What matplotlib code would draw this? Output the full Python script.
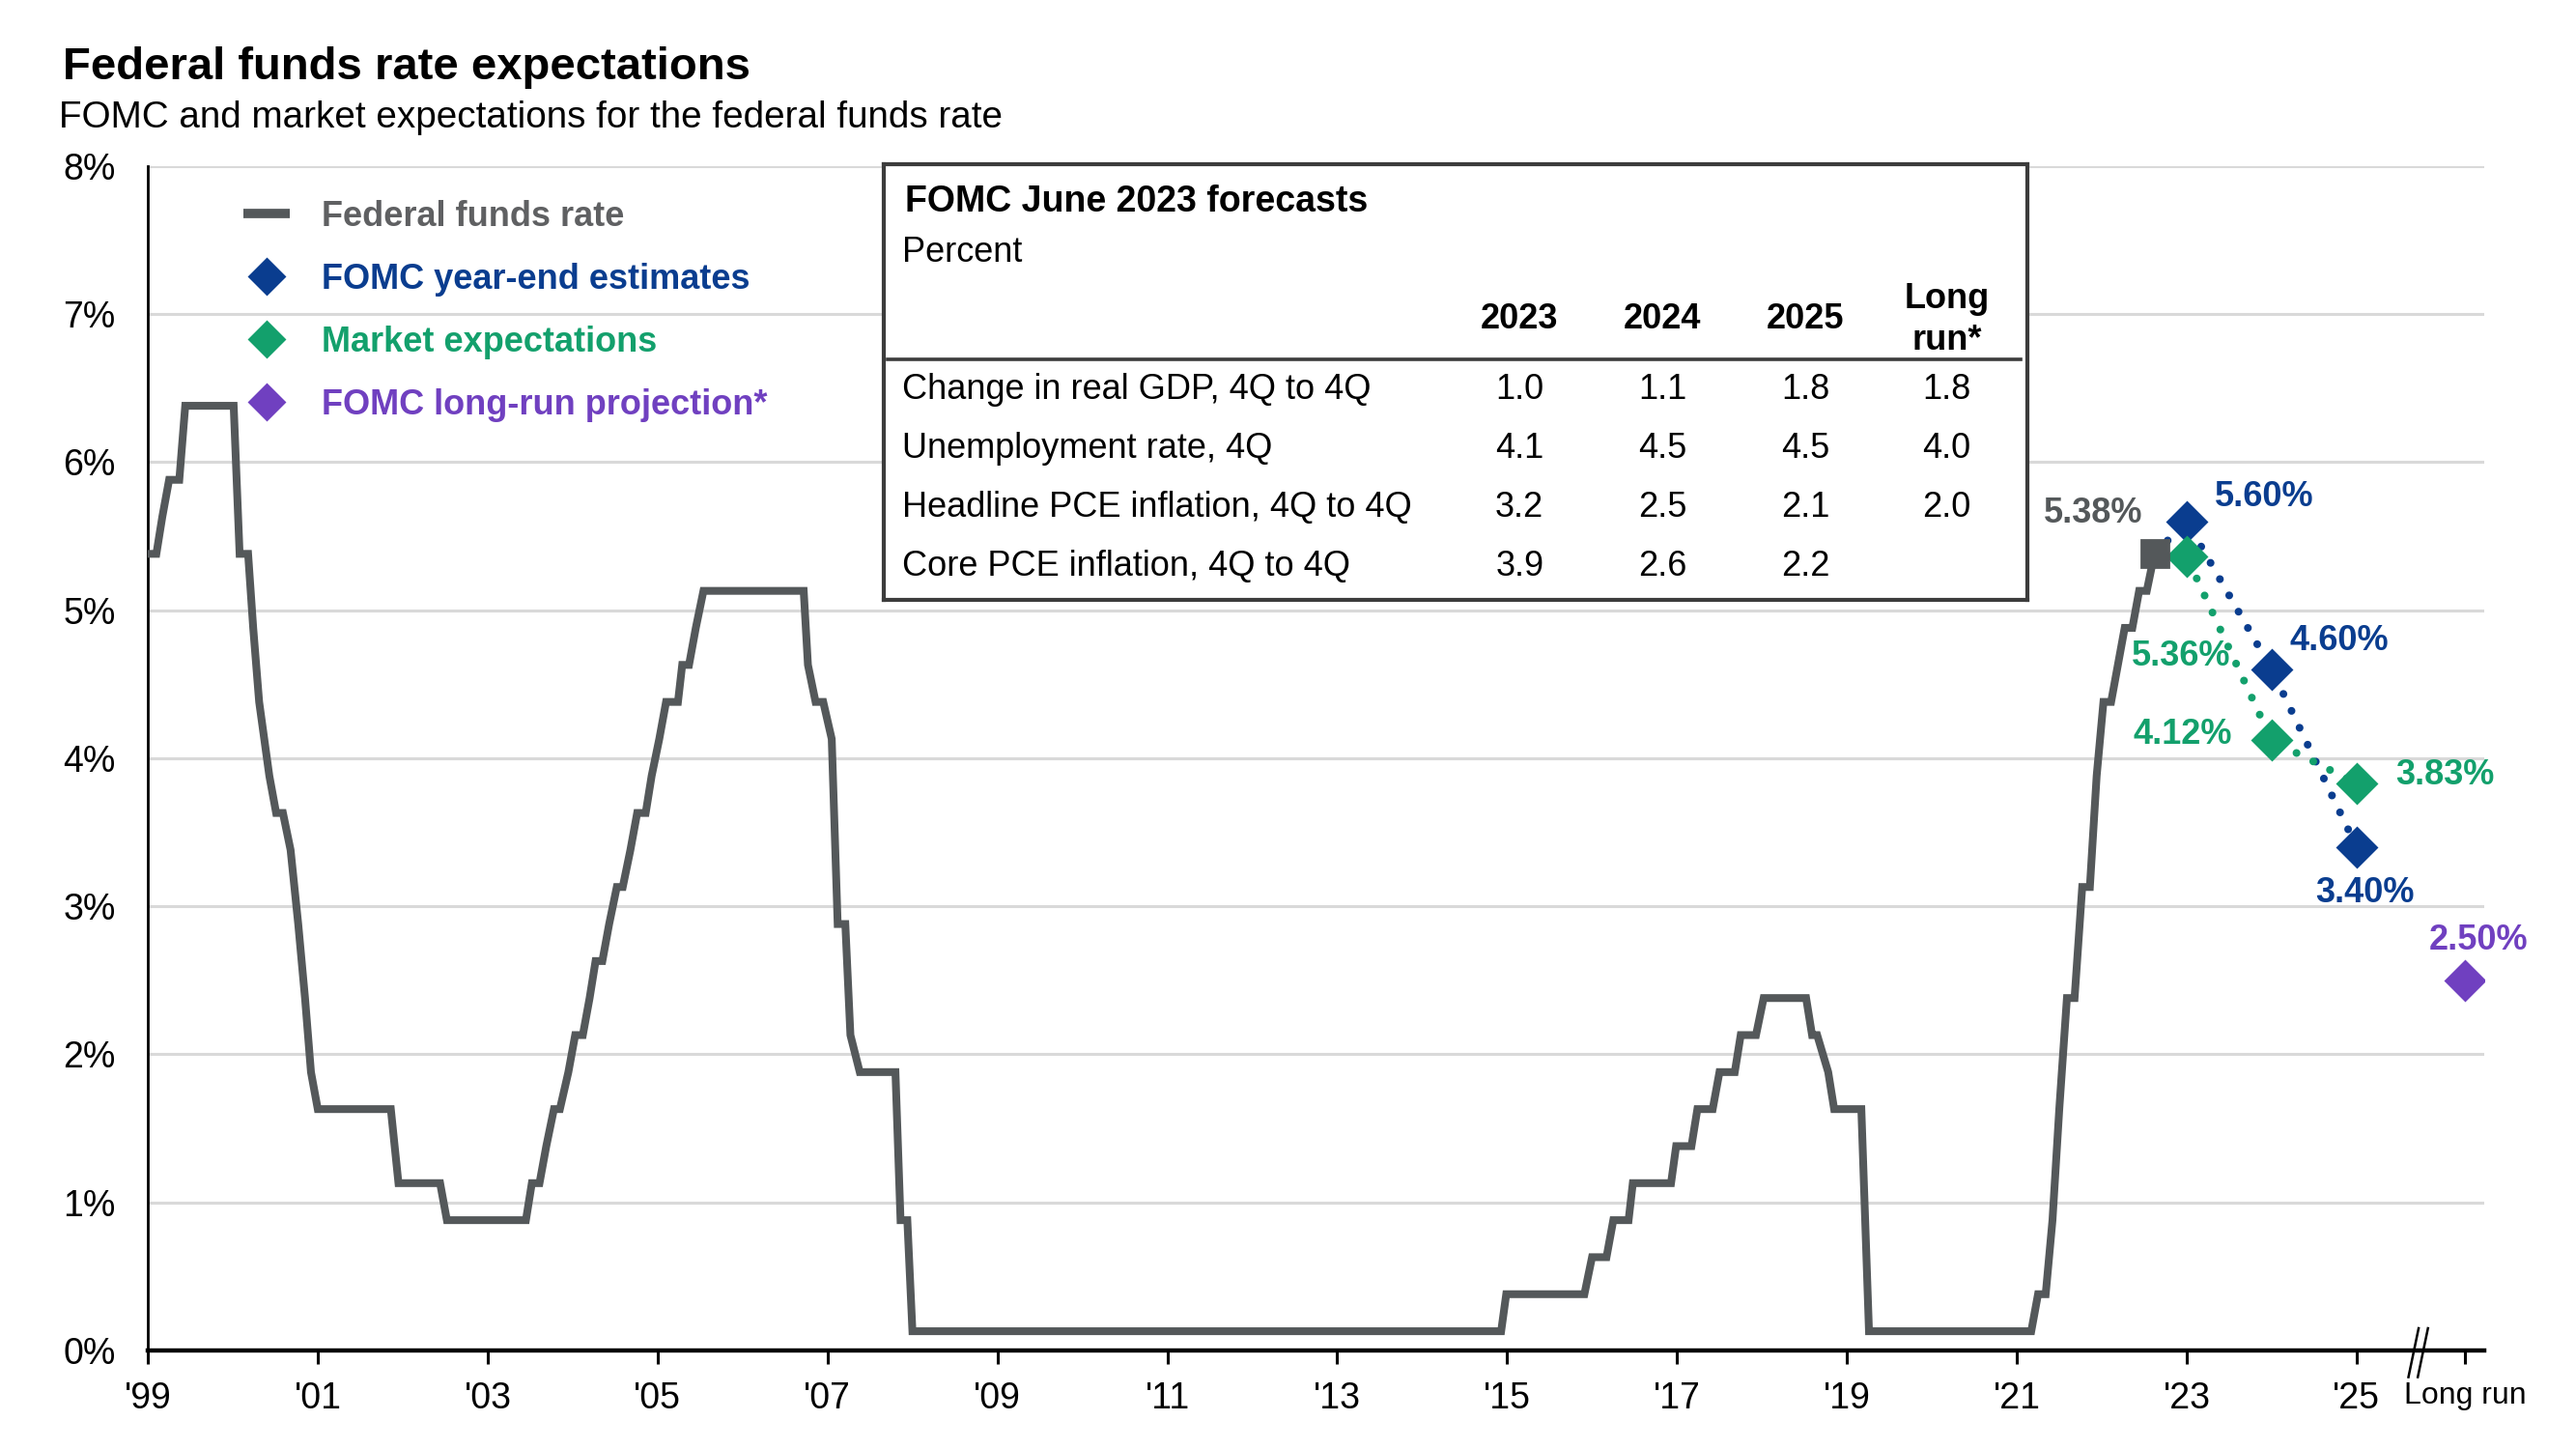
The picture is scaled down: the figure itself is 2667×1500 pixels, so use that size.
import matplotlib
matplotlib.use("Agg")
import matplotlib.pyplot as plt
from matplotlib.lines import Line2D

plt.rcParams['font.family'] = ['Liberation Sans', 'DejaVu Sans']

# ---------------- data ----------------
# Federal funds rate (x in chart-year positions, y in %)
ffr_x = [1999.00, 1999.10, 1999.17, 1999.25, 1999.37, 1999.44, 2000.01, 2000.08, 2000.18,
         2000.24, 2000.31, 2000.43, 2000.51, 2000.59, 2000.68, 2000.77, 2000.85, 2000.92,
         2001.00, 2001.86, 2001.95, 2002.44, 2002.52, 2003.45, 2003.52, 2003.61, 2003.69,
         2003.78, 2003.85, 2003.95, 2004.03, 2004.12, 2004.20, 2004.27, 2004.35, 2004.43,
         2004.52, 2004.59, 2004.68, 2004.76, 2004.86, 2004.93, 2005.02, 2005.10, 2005.24,
         2005.29, 2005.37, 2005.45, 2005.54, 2006.72, 2006.77, 2006.86, 2006.95, 2007.05,
         2007.12, 2007.21, 2007.27, 2007.38, 2007.80, 2007.86, 2007.94, 2008.00, 2014.93,
         2014.99, 2015.91, 2016.00, 2016.17, 2016.25, 2016.43, 2016.48, 2016.93, 2016.99,
         2017.17, 2017.24, 2017.42, 2017.50, 2017.68, 2017.75, 2017.93, 2018.02, 2018.52,
         2018.59, 2018.65, 2018.78, 2018.85, 2019.17, 2019.26, 2021.17, 2021.25, 2021.34,
         2021.42, 2021.50, 2021.59, 2021.68, 2021.77, 2021.86, 2021.94, 2022.02, 2022.11,
         2022.19, 2022.27, 2022.36, 2022.44, 2022.53, 2022.62]
ffr_y = [5.38, 5.38, 5.63, 5.88, 5.88, 6.38, 6.38, 5.38, 5.38,
         4.88, 4.38, 3.88, 3.63, 3.63, 3.38, 2.88, 2.38, 1.88,
         1.63, 1.63, 1.13, 1.13, 0.88, 0.88, 1.13, 1.13, 1.38,
         1.63, 1.63, 1.88, 2.13, 2.13, 2.38, 2.63, 2.63, 2.88,
         3.13, 3.13, 3.38, 3.63, 3.63, 3.88, 4.13, 4.38, 4.38,
         4.63, 4.63, 4.88, 5.13, 5.13, 4.63, 4.38, 4.38, 4.13,
         2.88, 2.88, 2.13, 1.88, 1.88, 0.88, 0.88, 0.13, 0.13,
         0.38, 0.38, 0.63, 0.63, 0.88, 0.88, 1.13, 1.13, 1.38,
         1.38, 1.63, 1.63, 1.88, 1.88, 2.13, 2.13, 2.38, 2.38,
         2.13, 2.13, 1.88, 1.63, 1.63, 0.13, 0.13, 0.38, 0.38,
         0.88, 1.63, 2.38, 2.38, 3.13, 3.13, 3.88, 4.38, 4.38,
         4.63, 4.88, 4.88, 5.13, 5.13, 5.38]

latest_x = 2022.62
latest_val = 5.38

fomc_years = [2023, 2024, 2025]
fomc_vals = [5.60, 4.60, 3.40]

market_years = [2023, 2024, 2025]
market_vals = [5.36, 4.12, 3.83]

longrun_x = 2026.28
longrun_val = 2.50

xtick_pos = [1999, 2001, 2003, 2005, 2007, 2009, 2011, 2013, 2015, 2017, 2019, 2021,
             2023, 2025, 2026.28]
xtick_labels = ["'99", "'01", "'03", "'05", "'07", "'09", "'11", "'13", "'15", "'17",
                "'19", "'21", "'23", "'25", "Long run"]
ytick_vals = [0, 1, 2, 3, 4, 5, 6, 7, 8]

legend_labels = ['Federal funds rate', 'FOMC year-end estimates',
                 'Market expectations', 'FOMC long-run projection*']

table_title = 'FOMC June 2023 forecasts'
table_cols = ['2023', '2024', '2025', 'Long\nrun*']
table_rows = ['Change in real GDP, 4Q to 4Q', 'Unemployment rate, 4Q',
              'Headline PCE inflation, 4Q to 4Q', 'Core PCE inflation, 4Q to 4Q']
gdp_vals = ['1.0', '1.1', '1.8', '1.8']
unemp_vals = ['4.1', '4.5', '4.5', '4.0']
headline_vals = ['3.2', '2.5', '2.1', '2.0']
core_vals = ['3.9', '2.6', '2.2', '']

# ---------------- style ----------------
GRAY = '#54585a'
BLUE = '#0a3d8f'
GREEN = '#13a06c'
PURPLE = '#7040c0'
GRID = '#d9d9d9'

fig = plt.figure(figsize=(13.335, 7.5), dpi=200)
ax = fig.add_axes([0.0574, 0.068, 0.9069, 0.8175])

# grid / axes
ax.set_ylim(0, 8)
ax.set_xlim(1999, 2026.5)
ax.set_yticks(ytick_vals)
ax.set_yticklabels([f'{v}%' for v in ytick_vals])
ax.yaxis.grid(True, color=GRID, lw=1.1, zorder=0)
ax.set_axisbelow(True)
for s in ['top', 'right']:
    ax.spines[s].set_visible(False)
ax.spines['left'].set_linewidth(1.0)
ax.spines['left'].set_color('black')
ax.spines['bottom'].set_linewidth(1.6)
ax.spines['bottom'].set_color('black')
ax.tick_params(axis='y', length=0, pad=12, labelsize=13.5)
ax.set_xticks(xtick_pos)
ax.set_xticklabels(xtick_labels)
ax.tick_params(axis='x', direction='out', length=5, width=1.1, pad=6.5, labelsize=13.5)
ax.get_xticklabels()[-1].set_fontsize(11.5)

# axis break marks
for bx in [2025.67, 2025.78]:
    ax.plot([bx - 0.06, bx + 0.06], [-0.18, 0.15], color='black', lw=0.9,
            clip_on=False, zorder=6)

# fed funds line
ax.plot(ffr_x, ffr_y, color=GRAY, lw=2.9, zorder=3, solid_joinstyle='miter')

# dotted projection paths
dot_style = dict(lw=2.9, linestyle=(0, (0.01, 2.4)), dash_capstyle='round', zorder=3)
ax.plot([latest_x] + fomc_years, [latest_val] + fomc_vals, color=BLUE, **dot_style)
ax.plot([latest_x] + market_years, [latest_val] + market_vals, color=GREEN, **dot_style)

# markers
ax.plot(fomc_years, fomc_vals, 'D', color=BLUE, ms=10, zorder=5, ls='none')
ax.plot(market_years, market_vals, 'D', color=GREEN, ms=10, zorder=5, ls='none')
ax.plot([longrun_x], [longrun_val], 'D', color=PURPLE, ms=10, zorder=5, ls='none')
ax.plot([latest_x], [latest_val], 's', color=GRAY, ms=10, zorder=6, ls='none')

# value labels
lab_kw = dict(textcoords='offset points', ha='center', va='center',
              fontsize=13, fontweight='bold')
ax.annotate(f'{latest_val:.2f}%', (latest_x, latest_val), xytext=(-23, 15), color=GRAY, **lab_kw)
fomc_off = [(29, 9), (25, 10.5), (3, -17)]
for xv, yv, off in zip(fomc_years, fomc_vals, fomc_off):
    ax.annotate(f'{yv:.2f}%', (xv, yv), xytext=off, color=BLUE, **lab_kw)
mkt_off = [(-2, -37), (-33, 2), (33, 3)]
for xv, yv, off in zip(market_years, market_vals, mkt_off):
    ax.annotate(f'{yv:.2f}%', (xv, yv), xytext=off, color=GREEN, **lab_kw)
ax.annotate(f'{longrun_val:.2f}%', (longrun_x, longrun_val), xytext=(5, 15), color=PURPLE, **lab_kw)

# legend
handles = [Line2D([0], [0], color=GRAY, lw=3.5, solid_capstyle='butt'),
           Line2D([0], [0], marker='D', color=BLUE, ls='none', ms=9),
           Line2D([0], [0], marker='D', color=GREEN, ls='none', ms=9),
           Line2D([0], [0], marker='D', color=PURPLE, ls='none', ms=9)]
leg = ax.legend(handles, legend_labels, loc='upper left', bbox_to_anchor=(0.0944, 0.862),
                bbox_transform=fig.transFigure, frameon=False, borderpad=0,
                borderaxespad=0, handlelength=1.33, handletextpad=0.92, labelspacing=0.83,
                prop={'weight': 'bold', 'size': 13},
                labelcolor=['#5f6062', BLUE, GREEN, PURPLE])

# title
fig.text(0.0242, 0.9530, 'Federal funds rate expectations', fontsize=17, fontweight='bold',
         ha='left', va='center')
fig.text(0.0230, 0.9185, 'FOMC and market expectations for the federal funds rate',
         fontsize=13.9, ha='left', va='center')

# forecast table box
x0, x1, yb, yt = 0.3431, 0.7870, 0.5862, 0.8866
tab = fig.add_axes([x0, yb, x1 - x0, yt - yb])
tab.set_facecolor('white')
tab.set_xticks([])
tab.set_yticks([])
for s in tab.spines.values():
    s.set_color('#3c3c3c')
    s.set_linewidth(1.5)
tab.set_xlim(x0, x1)
tab.set_ylim(yb, yt)

dy = -0.0023
tab.text(0.3514, 0.8628 + dy, table_title, fontsize=13.5, fontweight='bold', ha='left', va='center')
tab.text(0.3501, 0.8277 + dy, 'Percent', fontsize=13, ha='left', va='center')
col_x = [0.5899, 0.6454, 0.7009, 0.7557]
for cx, cl in zip(col_x, table_cols):
    tab.text(cx, 0.7818 + dy, cl, fontsize=13, fontweight='bold', ha='center', va='center',
             linespacing=1.3)
tab.plot([0.3444, 0.7844], [0.7517, 0.7517], color='#3c3c3c', lw=1.3)
row_y = [0.7336, 0.6927, 0.6519, 0.6111]
for ry, rl, vals in zip(row_y, table_rows, [gdp_vals, unemp_vals, headline_vals, core_vals]):
    tab.text(0.3501, ry + dy, rl, fontsize=13, ha='left', va='center')
    for cx, v in zip(col_x, vals):
        tab.text(cx, ry + dy, v, fontsize=13, ha='center', va='center')

fig.savefig('out.png', dpi=200, facecolor='white')
